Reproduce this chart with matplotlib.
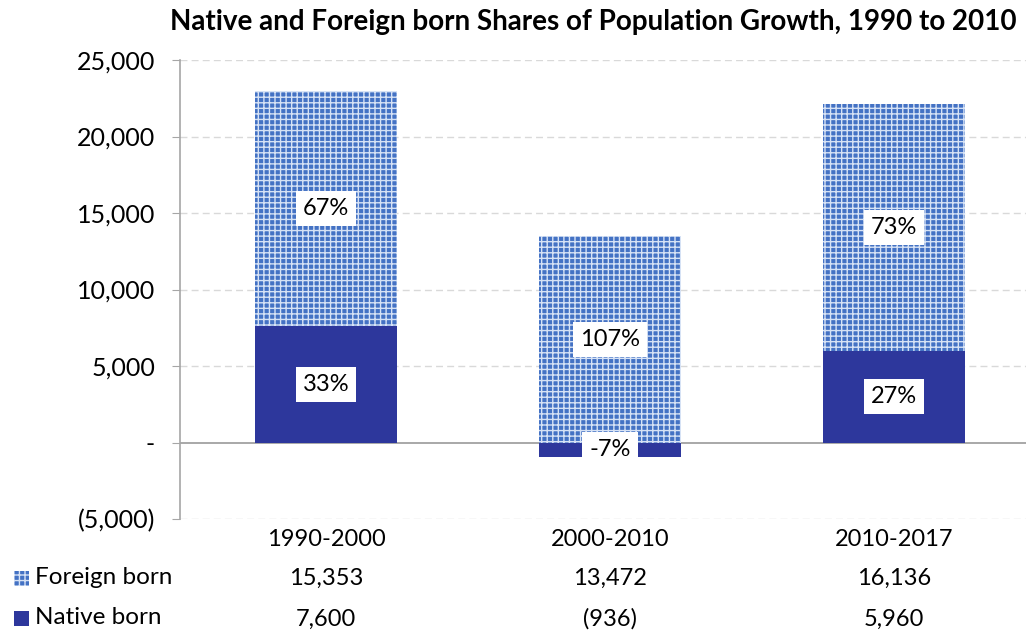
import matplotlib.pyplot as plt
import matplotlib as mpl

plt.rcParams['font.family'] = ['Lato', 'DejaVu Sans']

periods = ['1990-2000', '2000-2010', '2010-2017']
foreign = [15353, 13472, 16136]
native = [7600, -936, 5960]
foreign_pct = ['67%', '107%', '73%']
native_pct = ['33%', '-7%', '27%']
yticks = [-5000, 0, 5000, 10000, 15000, 20000, 25000]
ytick_labels = ['(5,000)', '-', '5,000', '10,000', '15,000', '20,000', '25,000']


def fmt(v):
    return f'({abs(v):,})' if v < 0 else f'{v:,}'


mpl.rcParams['hatch.color'] = '#d6e2f5'
mpl.rcParams['hatch.linewidth'] = 1.0

fig = plt.figure(figsize=(10.26, 6.34), dpi=100)
ax = fig.add_axes([180 / 1026, 1 - 519 / 634, 852 / 1026, 459 / 634])

native_color = '#2d379c'
foreign_color = '#4472c4'
x = range(len(periods))

ax.bar(x, native, width=0.5, color=native_color, zorder=3)
foreign_bottom = [max(n, 0) for n in native]
ax.bar(x, foreign, width=0.5, bottom=foreign_bottom, color=foreign_color,
       hatch='+++', edgecolor='#d6e2f5', linewidth=0, zorder=3)

box = dict(boxstyle='square,pad=0.3', facecolor='white', edgecolor='none')
for i in x:
    fb = foreign_bottom[i]
    ax.text(i, fb + foreign[i] / 2, foreign_pct[i], ha='center', va='center',
            fontsize=17, bbox=box, zorder=5)
    ax.text(i, native[i] / 2, native_pct[i], ha='center', va='center',
            fontsize=17, bbox=box, zorder=5)

ax.set_xlim(-0.514, 2.486)
ax.set_ylim(-5000, 25000)
ax.set_yticks(yticks)
ax.set_yticklabels(ytick_labels, fontsize=18)
ax.tick_params(axis='y', length=6, color='#a6a6a6', pad=12)
ax.set_xticks([])
for s in ['top', 'right', 'bottom']:
    ax.spines[s].set_visible(False)
ax.spines['left'].set_color('#a6a6a6')
ax.spines['left'].set_linewidth(1.2)
for y in yticks:
    if y == 0:
        ax.axhline(0, color='#9a9a9a', lw=1.2, zorder=2)
    else:
        ax.axhline(y, color='#d9d9d9', lw=1, ls=(0, (5, 3)), zorder=1)

fig.text(170 / 1026, 1 - 22 / 634, 'Native and Foreign born Shares of Population Growth, 1990 to 2010',
         fontsize=20, fontweight='bold', ha='left', va='center')

# data table below the axes
trans = ax.get_xaxis_transform()
for i in x:
    ax.text(i, -0.045, periods[i], transform=trans, ha='center', va='center', fontsize=17)
    ax.text(i, -0.13, fmt(foreign[i]), transform=trans, ha='center', va='center', fontsize=17)
    ax.text(i, -0.218, fmt(native[i]), transform=trans, ha='center', va='center', fontsize=17)

fig.patches.append(mpl.patches.Rectangle((14 / 1026, 1 - 586 / 634), 15 / 1026, 15 / 634,
                                         transform=fig.transFigure, facecolor=foreign_color,
                                         hatch='+++', edgecolor='#d6e2f5', linewidth=0))
fig.patches.append(mpl.patches.Rectangle((14 / 1026, 1 - 626 / 634), 15 / 1026, 15 / 634,
                                         transform=fig.transFigure, facecolor=native_color,
                                         linewidth=0))
fig.text(35 / 1026, 1 - 578 / 634, 'Foreign born', fontsize=17.5, va='center')
fig.text(35 / 1026, 1 - 618 / 634, 'Native born', fontsize=17.5, va='center')

fig.savefig('out.png', dpi=100)
